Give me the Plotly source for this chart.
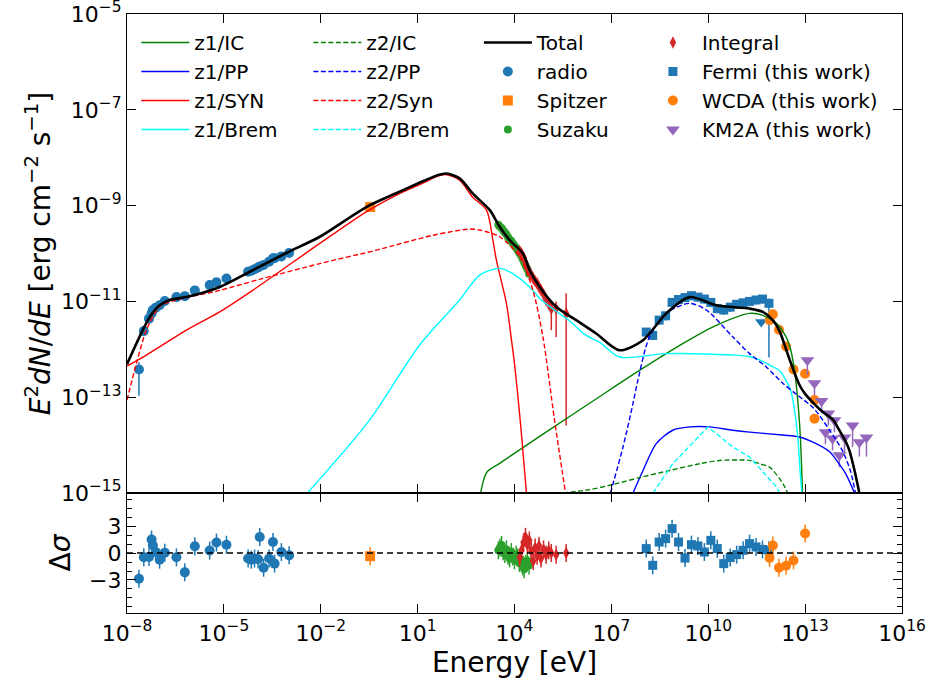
import numpy as np
import plotly.graph_objects as go

# ---------------- model curves (log10 E [eV], log10 E^2dN/dE [erg cm^-2 s^-1]) ----------------
total_lE = [-8.0, -7.30, -6.99, -6.68, -6.16, -5.13, -4.11, -3.07, -2.03, -0.59, 0.44, 1.20, 1.60, 1.89, 2.30,
            2.71, 3.23, 3.54, 3.85, 4.26, 4.47, 4.78, 5.29, 5.91, 6.53, 7.25, 7.98, 8.70, 9.42, 10.25,
            11.28, 11.69, 12.00, 12.21, 12.41, 12.62, 12.83, 13.00, 13.20, 13.55, 13.86, 14.06, 14.26,
            14.37, 14.53, 14.68]
total_lF = [-12.31, -11.33, -11.08, -10.97, -10.91, -10.70, -10.35, -9.99, -9.65, -9.03, -8.71, -8.48, -8.37, -8.33,
            -8.43, -8.75, -9.09, -9.44, -9.72, -10.00, -10.35, -10.70, -11.11, -11.39, -11.67, -12.02, -11.81, -11.25,
            -10.91, -11.08, -11.15, -11.22, -11.39, -11.62, -12.00, -12.40, -12.75, -12.93, -13.08, -13.31, -13.47,
            -13.69, -13.93, -14.11, -14.53, -15.0]

z1_syn_lE = [-8.0, -7.40, -6.16, -5.13, -4.11, -2.03, -0.59, 0.44, 1.20, 1.60, 1.85, 2.30, 2.70, 3.13, 3.33,
             3.44, 3.75, 3.90, 4.00, 4.10, 4.20, 4.30, 4.37]
z1_syn_lF = [-12.35, -12.12, -11.60, -11.22, -10.77, -9.79, -9.13, -8.75, -8.52, -8.39, -8.35, -8.47, -8.82, -9.09,
             -9.72, -10.14, -11.04, -11.77, -12.30, -12.95, -13.65, -14.45, -15.0]

z2_syn_lE = [-8.0, -7.71, -7.40, -6.99, -6.58, -5.13, -3.79, -2.03, -0.28, 1.47, 2.61, 2.92, 3.54, 4.16,
             4.57, 4.88, 5.24, 5.58]
z2_syn_lF = [-13.06, -12.30, -11.60, -11.11, -10.99, -10.77, -10.52, -10.21, -9.93, -9.62, -9.49, -9.51, -9.65, -10.07,
             -10.77, -11.74, -13.48, -15.0]

z1_brem_lE = [-2.41, -0.49, 1.06, 2.30, 2.92, 3.54, 3.95, 4.57, 4.78, 5.24, 5.71, 6.20, 6.63, 7.25, 8.70,
              10.76, 11.28, 11.59, 11.90, 12.21, 12.41, 12.55, 12.68, 12.78, 12.85, 12.90]
z1_brem_lF = [-15.0, -13.48, -11.91, -10.97, -10.45, -10.31, -10.42, -10.77, -10.94, -11.18, -11.41, -11.70, -11.85,
              -12.16, -12.09, -12.12, -12.15, -12.22, -12.33, -12.45, -12.65, -12.85, -13.30, -13.90, -14.60, -15.0]

z1_ic_lE = [2.95, 3.14, 3.54, 5.00, 6.63, 7.87, 9.21, 10.25, 11.28, 11.69, 12.10, 12.41, 12.55, 12.65, 12.75,
            12.85, 12.92]
z1_ic_lF = [-15.0, -14.57, -14.38, -13.72, -12.99, -12.44, -11.88, -11.50, -11.25, -11.29, -11.45, -11.74, -12.0,
            -12.35, -12.9, -13.8, -15.0]

z2_ic_lE = [5.50, 6.33, 6.94, 7.87, 8.80, 9.73, 10.35, 10.97, 11.28, 11.59, 11.90, 12.31, 12.46]
z2_ic_lF = [-15.0, -14.93, -14.84, -14.68, -14.53, -14.39, -14.32, -14.31, -14.32, -14.39, -14.46, -14.80, -15.0]

z2_pp_lE = [6.97, 7.36, 7.67, 7.82, 8.18, 8.70, 9.42, 9.94, 10.76, 11.28, 11.80, 12.31, 12.75, 13.25, 13.76,
            14.15, 14.40, 14.56]
z2_pp_lF = [-15.0, -14.04, -13.13, -12.65, -11.74, -11.25, -11.04, -11.18, -11.74, -12.09, -12.37, -12.71, -12.95,
            -13.22, -13.69, -14.11, -14.53, -15.0]

z1_pp_lE = [7.67, 7.98, 8.39, 8.90, 9.42, 10.04, 10.76, 11.28, 12.31, 12.83, 13.34, 13.76, 14.06, 14.26, 14.53]
z1_pp_lF = [-15.0, -14.53, -13.97, -13.69, -13.62, -13.62, -13.69, -13.73, -13.79, -13.83, -13.97, -14.14, -14.40,
            -14.60, -15.0]

z2_brem_lE = [8.29, 8.90, 9.99, 10.76, 11.28, 11.59, 12.11, 12.21]
z2_brem_lF = [-15.0, -14.39, -13.62, -14.04, -14.25, -14.49, -14.87, -15.0]

# ---------------- data points ----------------
radio_lE = [-7.63, -7.48, -7.32, -7.24, -7.20, -7.11, -6.99, -6.83, -6.47, -6.21, -5.90, -5.44, -5.23, -4.92,
            -4.25, -4.15, -4.05, -3.94, -3.89, -3.77, -3.60, -3.48, -3.43, -3.22, -2.98]
radio_lF = [-12.42, -11.62, -11.36, -11.25, -11.18, -11.13, -11.08, -10.99, -10.91, -10.89, -10.77, -10.66, -10.60,
            -10.52, -10.38, -10.36, -10.33, -10.29, -10.27, -10.24, -10.17, -10.10, -10.10, -10.06, -9.99]
radio_up = [0.15] + [0.03] * 24
radio_dn = [0.55] + [0.03] * 24
radio_res = [-2.87, -0.48, -0.44, 1.50, 0.86, 0.10, -0.74, 0.04, -0.48, -2.15, 0.75, 0.27, 1.16, 0.92,
             -0.61, -0.74, -0.61, -0.70, 1.78, -1.64, -0.61, 1.23, -1.18, 0.10, -0.26]

spitzer_lE = [-0.47]
spitzer_lF = [-9.03]
spitzer_res = [-0.35]

suzaku_lE = [3.50, 3.55, 3.60, 3.65, 3.70, 3.75, 3.80, 3.85, 3.90, 3.95, 4.00, 4.05, 4.10, 4.15, 4.20, 4.25,
             4.30, 4.35, 4.40, 4.45]
suzaku_lF = [-9.40, -9.44, -9.47, -9.52, -9.56, -9.60, -9.66, -9.71, -9.74, -9.79, -9.84, -9.88, -9.93, -9.99,
             -10.04, -10.11, -10.19, -10.26, -10.33, -10.42]
suzaku_res = [0.3, 0.6, 0.9, 0.2, -0.1, 0.4, -0.3, -0.6, 0.1, -0.4, -0.8, -0.2, -0.5, -1.1, -0.7, -1.5, -1.8,
              -1.2, -0.9, -1.4]

integral_lE = [4.16, 4.22, 4.28, 4.34, 4.40, 4.46, 4.52, 4.58, 4.64, 4.70, 4.76, 4.82, 4.90, 4.98, 5.06, 5.14,
               5.29, 5.60]
integral_lF = [-9.95, -10.00, -10.08, -10.20, -10.30, -10.38, -10.45, -10.52, -10.58, -10.62, -10.70, -10.76,
               -10.85, -10.98, -11.05, -11.15, -11.15, -11.25]
integral_up = [0.05] * 15 + [0.12, 0.15, 0.42]
integral_dn = [0.06] * 15 + [0.45, 0.60, 2.34]
integral_res = [-0.5, 0.3, 1.2, 1.8, 0.9, 1.4, 0.2, -0.9, 0.6, -0.3, 0.8, -0.6, 0.4, -0.2, 0.3, 0.0, -0.2, 0.0]

fermi_lE = [8.08, 8.28, 8.48, 8.68, 8.88, 9.08, 9.28, 9.48, 9.68, 9.88, 10.08, 10.28, 10.48, 10.68, 10.88,
            11.08, 11.28, 11.48, 11.68, 11.88]
fermi_lF = [-11.64, -11.71, -11.39, -11.30, -11.02, -10.96, -10.92, -10.88, -10.91, -10.95, -11.02, -11.15,
            -11.18, -11.12, -11.06, -11.03, -11.00, -10.97, -10.95, -11.04]
fermi_up = [0.08] * 19 + [0.10]
fermi_dn = [0.10] * 19 + [1.13]
fermi_res = [0.49, -1.37, 1.22, 1.60, 2.71, 1.22, -0.56, 0.93, 0.78, 0.11, 1.41, 0.49, -1.18, -0.51, -0.18,
             0.30, 1.04, 0.67, 0.40, 0.30]
fermi_ul_lE = [11.64]
fermi_ul_lF = [-11.43]

wcda_lE = [11.90, 12.00, 12.19, 12.41, 12.64, 13.00, 13.29, 13.29]
wcda_lF = [-11.39, -11.27, -11.59, -11.94, -12.42, -12.51, -13.06, -13.45]
wcda_res_lE = [11.90, 12.00, 12.19, 12.41, 12.64, 13.00]
wcda_res = [-0.54, 0.83, -1.63, -1.41, -0.83, 2.17]

km2a_lE = [13.07, 13.29, 13.51, 13.72, 13.91, 13.63, 13.85, 14.06, 14.22, 14.47, 14.68, 14.90]
km2a_lF = [-12.23, -12.71, -13.08, -13.34, -13.48, -13.73, -13.86, -14.21, -13.84, -13.59, -13.94, -13.84]
km2a_dn = [0.30, 0.25, 0.25, 0.25, 0.25, 0.25, 0.25, 0.25, 0.35, 0.45, 0.30, 0.40]


def p10(a):
    return 10.0 ** np.asarray(a, dtype=float)


def errs(lF, up, dn):
    F = p10(lF)
    return F * (10.0 ** np.asarray(up) - 1.0), F * (1.0 - 10.0 ** (-np.asarray(dn)))


GREEN, BLUE, RED, CYAN = "#008000", "#0000ff", "#ff0000", "#00ffff"
C_BLUE, C_ORANGE, C_GREEN, C_RED, C_PURPLE = "#1f77b4", "#ff7f0e", "#2ca02c", "#d62728", "#9467bd"
DASH = "5px,2.5px"

fig = go.Figure()


def xerr(E, xdex, color):
    if xdex <= 0:
        return dict(visible=False)
    return dict(type="data", symmetric=False, array=E * (10 ** xdex - 1), arrayminus=E * (1 - 10 ** -xdex),
                color=color, thickness=1.5, width=0)


def data_trace(name, lE, lF, up, dn, color, symbol, size, legend, rank, xdex=0.0):
    eu, ed = errs(lF, up, dn)
    E = p10(lE)
    fig.add_trace(go.Scatter(
        x=E, y=p10(lF), mode="markers", name=name,
        marker=dict(color=color, symbol=symbol, size=size, line=dict(width=0)),
        error_y=dict(type="data", symmetric=False, array=eu, arrayminus=ed, color=color, thickness=1.5, width=0),
        error_x=xerr(E, xdex, color), legend=legend, legendrank=rank, xaxis="x", yaxis="y"))


def res_trace(lE, res, color, symbol, size, xdex=0.0):
    E = p10(lE)
    fig.add_trace(go.Scatter(
        x=E, y=res, mode="markers", showlegend=False,
        marker=dict(color=color, symbol=symbol, size=size, line=dict(width=0)),
        error_y=dict(type="constant", value=1.0, color=color, thickness=1.5, width=0),
        error_x=xerr(E, xdex, color), xaxis="x2", yaxis="y2"))


# data (drawn first, under the model lines)
data_trace("radio", radio_lE, radio_lF, radio_up, radio_dn, C_BLUE, "circle", 10, "legend3", 2)
data_trace("Spitzer", spitzer_lE, spitzer_lF, [0.04], [0.04], C_ORANGE, "square", 10, "legend3", 3, 0.03)
data_trace("Suzaku", suzaku_lE, suzaku_lF, [0.05] * 20, [0.05] * 20, C_GREEN, "circle", 8, "legend3", 4, 0.02)
data_trace("Integral", integral_lE, integral_lF, integral_up, integral_dn, C_RED, "diamond-tall", 9, "legend4", 1, 0.02)
data_trace("Fermi (this work)", fermi_lE, fermi_lF, fermi_up, fermi_dn, C_BLUE, "square", 9, "legend4", 2, 0.1)
fig.add_trace(go.Scatter(x=p10(fermi_ul_lE), y=p10(fermi_ul_lF), mode="markers", showlegend=False,
                         marker=dict(color=C_BLUE, symbol="triangle-down", size=11), xaxis="x", yaxis="y"))
data_trace("WCDA (this work)", wcda_lE, wcda_lF, [0.08] * 8, [0.08] * 8, C_ORANGE, "circle", 10, "legend4", 3, 0.05)
data_trace("KM2A (this work)", km2a_lE, km2a_lF, [0.05] * 12, km2a_dn, C_PURPLE, "triangle-down", 12, "legend4", 4)


def model(name, lE, lF, color, dash, legend, rank, width=1.4, shape="spline"):
    fig.add_trace(go.Scatter(
        x=p10(lE), y=p10(lF), mode="lines", name=name,
        line=dict(color=color, width=width, dash=dash, shape=shape, smoothing=0.8),
        legend=legend, legendrank=rank, xaxis="x", yaxis="y"))


model("z1/IC", z1_ic_lE, z1_ic_lF, GREEN, "solid", "legend", 1)
model("z1/PP", z1_pp_lE, z1_pp_lF, BLUE, "solid", "legend", 2)
model("z1/SYN", z1_syn_lE, z1_syn_lF, RED, "solid", "legend", 3)
model("z1/Brem", z1_brem_lE, z1_brem_lF, CYAN, "solid", "legend", 4)
model("z2/IC", z2_ic_lE, z2_ic_lF, GREEN, DASH, "legend2", 1)
model("z2/PP", z2_pp_lE, z2_pp_lF, BLUE, DASH, "legend2", 2)
model("z2/Syn", z2_syn_lE, z2_syn_lF, RED, DASH, "legend2", 3)
model("z2/Brem", z2_brem_lE, z2_brem_lF, CYAN, DASH, "legend2", 4, shape="linear")
model("Total", total_lE, total_lF, "black", "solid", "legend3", 1, width=2.6)

# residuals
res_trace(radio_lE, radio_res, C_BLUE, "circle", 10)
res_trace(spitzer_lE, spitzer_res, C_ORANGE, "square", 10, 0.03)
res_trace(suzaku_lE, suzaku_res, C_GREEN, "circle", 8, 0.02)
res_trace(integral_lE, integral_res, C_RED, "diamond-tall", 9, 0.02)
res_trace(fermi_lE, fermi_res, C_BLUE, "square", 9, 0.1)
res_trace(wcda_res_lE, wcda_res, C_ORANGE, "circle", 10, 0.05)

FONT = "DejaVu Sans"
xt = [10.0 ** k for k in range(-8, 17, 3)]
xtt = ["10<sup>" + ("−" + str(-k) if k < 0 else str(k)) + "</sup>" for k in range(-8, 17, 3)]
yt = [10.0 ** k for k in range(-15, -4, 2)]
ytt = ["10<sup>−" + str(-k) + "</sup>" for k in range(-15, -4, 2)]

axis_common = dict(showline=True, linecolor="black", linewidth=1.3, mirror="ticks", ticks="inside",
                   ticklen=9, tickwidth=1.3, tickcolor="black", showgrid=False, zeroline=False,
                   automargin=False, ticklabeloverflow="allow",
                   tickfont=dict(size=22, color="black", family=FONT))

split = 0.2003
fig.update_layout(
    width=935, height=684, margin=dict(l=127, r=33, t=14, b=71, autoexpand=False),
    paper_bgcolor="white", plot_bgcolor="white",
    font=dict(family=FONT, color="black"),
    xaxis=dict(type="log", range=[-8.0005, 16.0005], tickvals=xt, showticklabels=False, anchor="y",
               matches="x2", **axis_common),
    xaxis2=dict(type="log", range=[-8.0005, 16.0005], tickvals=xt, ticktext=xtt, anchor="y2",
                title=dict(text="Energy [eV]", font=dict(size=28), standoff=4), **axis_common),
    yaxis=dict(type="log", range=[-15.0005, -4.9995], tickvals=yt, ticktext=ytt, domain=[split, 1], anchor="x",
               title=dict(text="<i>E</i><sup>2</sup><i>dN</i>/<i>dE</i> [erg cm<sup>−2</sup> s<sup>−1</sup>]",
                          font=dict(size=28), standoff=2), **axis_common),
    yaxis2=dict(range=[-6.67, 6.67], tickvals=[-3, 0, 3], ticktext=["−3", "0", "3"], domain=[0, split],
                anchor="x2", minor=dict(ticks="inside", dtick=1, ticklen=5, tickwidth=1.1, tickcolor="black"),
                title=dict(text="Δ<i>σ</i>", font=dict(size=28), standoff=10), **axis_common),
    shapes=[dict(type="line", xref="x2 domain", yref="y2", x0=0, x1=1, y0=0, y1=0,
                 line=dict(color="black", width=1.4, dash="6px,4px"))],
)

leg_common = dict(font=dict(size=20, family=FONT, color="black"), bgcolor="rgba(0,0,0,0)",
                  borderwidth=0, yanchor="top", xanchor="left", orientation="v", itemwidth=48,
                  tracegroupgap=0)
fig.update_layout(
    legend=dict(x=0.012, y=0.985, **leg_common),
    legend2=dict(x=0.234, y=0.985, **leg_common),
    legend3=dict(x=0.454, y=0.985, **leg_common),
    legend4=dict(x=0.667, y=0.985, **leg_common),
)

fig.write_html("out.html", config={"displayModeBar": False},
               post_script="document.body.style.margin='0px';")
